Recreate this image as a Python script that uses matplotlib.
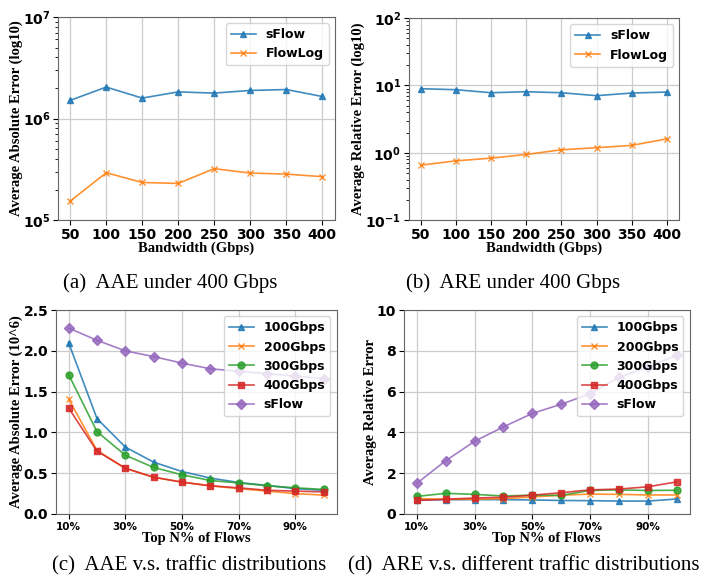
import numpy as np
import matplotlib.pyplot as plt

# data
bandwidth = [50, 100, 150, 200, 250, 300, 350, 400]
aae_sflow = [1.51e6, 2.04e6, 1.59e6, 1.83e6, 1.78e6, 1.89e6, 1.93e6, 1.65e6]
aae_flowlog = [1.54e5, 2.93e5, 2.35e5, 2.30e5, 3.21e5, 2.91e5, 2.84e5, 2.68e5]
are_sflow = [8.95, 8.65, 7.8, 8.07, 7.8, 7.05, 7.72, 7.98]
are_flowlog = [0.656, 0.76, 0.833, 0.945, 1.11, 1.19, 1.29, 1.61]

top_n = [10, 20, 30, 40, 50, 60, 70, 80, 90, 100]
top_ticks = [10, 30, 50, 70, 90]
top_labels = ['10%', '30%', '50%', '70%', '90%']
series_names = ['100Gbps', '200Gbps', '300Gbps', '400Gbps', 'sFlow']

aae_dist = [
    [2.10, 1.17, 0.82, 0.635, 0.52, 0.44, 0.385, 0.35, 0.31, 0.29],
    [1.41, 0.78, 0.56, 0.45, 0.39, 0.345, 0.31, 0.28, 0.25, 0.23],
    [1.71, 1.01, 0.72, 0.57, 0.48, 0.41, 0.38, 0.345, 0.32, 0.30],
    [1.30, 0.77, 0.56, 0.45, 0.39, 0.345, 0.32, 0.29, 0.28, 0.27],
    [2.28, 2.13, 2.00, 1.93, 1.85, 1.78, 1.75, 1.72, 1.69, 1.66],
]
are_dist = [
    [0.68, 0.70, 0.70, 0.70, 0.685, 0.66, 0.65, 0.63, 0.63, 0.73],
    [0.75, 0.72, 0.72, 0.75, 0.83, 0.92, 0.97, 0.96, 0.93, 0.93],
    [0.86, 1.01, 0.96, 0.88, 0.92, 0.91, 1.15, 1.18, 1.15, 1.16],
    [0.66, 0.72, 0.78, 0.82, 0.92, 1.04, 1.18, 1.22, 1.33, 1.57],
    [1.50, 2.61, 3.56, 4.27, 4.93, 5.38, 5.89, 6.70, 7.20, 7.78],
]

colors = ['#1f77b4', '#ff7f0e', '#2ca02c', '#d62728', '#9467bd']
markers = ['^', 'x', 'o', 's', 'D']

serif = {'family': 'Liberation Serif', 'weight': 'bold', 'size': 10.5}
legfont = {'family': 'DejaVu Sans', 'weight': 'bold', 'size': 9}


def style_axes(ax, xsize=9, ysize=9):
    ax.grid(True, which='major', color='#cccccc', linewidth=0.9)
    ax.set_axisbelow(True)
    for s in ax.spines.values():
        s.set_color('#666666')
    ax.tick_params(axis='x', labelsize=xsize, pad=2)
    ax.tick_params(axis='y', labelsize=ysize, pad=2)
    for lab in ax.get_xticklabels() + ax.get_yticklabels():
        lab.set_fontweight('bold')
        lab.set_family('DejaVu Sans')


fig = plt.figure(figsize=(7.16, 5.84), dpi=100)

# (a)
ax1 = fig.add_axes([0.081, 0.623, 0.387, 0.348])
ax1.plot(bandwidth, aae_sflow, color=colors[0], marker='^', ms=5, lw=1.2, alpha=0.85, label='sFlow')
ax1.plot(bandwidth, aae_flowlog, color=colors[1], marker='x', ms=5, lw=1.2, alpha=0.85, label='FlowLog')
ax1.set_yscale('log')
ax1.set_ylim(1e5, 1e7)
ax1.set_xlim(33, 418)
ax1.set_xticks(bandwidth)
ax1.set_xlabel('Bandwidth (Gbps)', fontdict=serif, labelpad=0)
ax1.set_ylabel('Average Absolute Error (log10)', fontdict=serif, labelpad=0)
ax1.legend(loc='upper right', prop=legfont)
style_axes(ax1, 10, 10)

# (b)
ax2 = fig.add_axes([0.571, 0.623, 0.378, 0.346])
ax2.plot(bandwidth, are_sflow, color=colors[0], marker='^', ms=5, lw=1.2, alpha=0.85, label='sFlow')
ax2.plot(bandwidth, are_flowlog, color=colors[1], marker='x', ms=5, lw=1.2, alpha=0.85, label='FlowLog')
ax2.set_yscale('log')
ax2.set_ylim(1e-1, 1e2)
ax2.set_xlim(33, 418)
ax2.set_xticks(bandwidth)
ax2.set_xlabel('Bandwidth (Gbps)', fontdict=serif, labelpad=0)
ax2.set_ylabel('Average Relative Error (log10)', fontdict=serif, labelpad=0)
ax2.legend(loc='upper right', prop=legfont)
style_axes(ax2, 10, 10)

# (c)
ax3 = fig.add_axes([0.078, 0.120, 0.392, 0.349])
for vals, name, c, m in zip(aae_dist, series_names, colors, markers):
    ax3.plot(top_n, vals, color=c, marker=m, ms=5, lw=1.2, alpha=0.85, label=name)
ax3.set_ylim(0, 2.5)
ax3.set_xlim(5.5, 104.5)
ax3.set_xticks(top_ticks)
ax3.set_xticklabels(top_labels)
ax3.set_xlabel('Top N% of Flows', fontdict=serif, labelpad=0)
ax3.set_ylabel('Average Absolute Error (10^6)', fontdict=serif, labelpad=0)
ax3.legend(loc='upper right', prop=legfont)
style_axes(ax3, 7.5, 10)

# (d)
ax4 = fig.add_axes([0.564, 0.120, 0.399, 0.349])
for vals, name, c, m in zip(are_dist, series_names, colors, markers):
    ax4.plot(top_n, vals, color=c, marker=m, ms=5, lw=1.2, alpha=0.85, label=name)
ax4.set_ylim(0, 10)
ax4.set_xlim(5.5, 104.5)
ax4.set_xticks(top_ticks)
ax4.set_xticklabels(top_labels)
ax4.set_xlabel('Top N% of Flows', fontdict=serif, labelpad=0)
ax4.set_ylabel('Average Relative Error', fontdict=serif, labelpad=0)
ax4.legend(loc='upper right', prop=legfont)
style_axes(ax4, 7.5, 10)

cap = {'family': 'Liberation Serif', 'size': 15}
fig.text(0.237, 0.515, '(a)  AAE under 400 Gbps', ha='center', va='center', fontdict=cap)
fig.text(0.717, 0.515, '(b)  ARE under 400 Gbps', ha='center', va='center', fontdict=cap)
fig.text(0.264, 0.032, '(c)  AAE v.s. traffic distributions', ha='center', va='center', fontdict=cap)
fig.text(0.732, 0.032, '(d)  ARE v.s. different traffic distributions', ha='center', va='center', fontdict=cap)

fig.savefig('out.png', dpi=100)
